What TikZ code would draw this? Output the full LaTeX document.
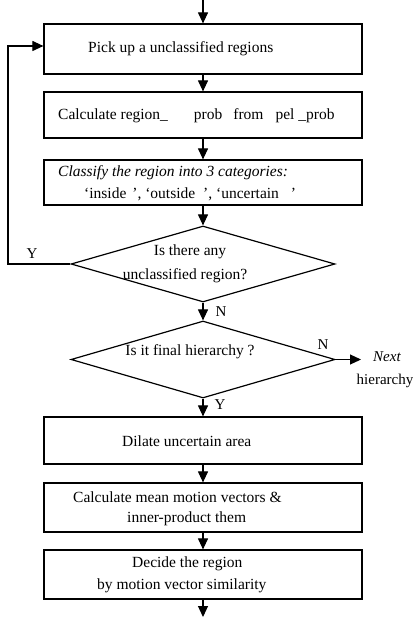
\documentclass[tikz,border=0pt]{standalone}
\usepackage{fontspec}
\setmainfont{Liberation Serif}
\usetikzlibrary{shapes.geometric,arrows.meta}
\begin{document}
\begin{tikzpicture}[x=1pt,y=-1pt,
  box/.style={draw,line width=1.2pt,minimum width=318pt,inner sep=0pt},
  dia/.style={draw,diamond,line width=1.2pt,inner sep=0pt,minimum width=264pt},
  txt/.style={font=\fontsize{15.5}{18}\selectfont,inner sep=0pt,anchor=west},
  ctxt/.style={font=\fontsize{15.5}{18}\selectfont,inner sep=0pt},
  lbl/.style={font=\fontsize{15}{18}\selectfont,inner sep=0pt},
  arr/.style={line width=1.1pt,-{Triangle[length=11pt,width=10pt]}}]
\fill[white] (0,0) rectangle (412,617);
\useasboundingbox (0,0) rectangle (412,617);

\coordinate (start) at (203,0);
\node[box,minimum height=50pt] (b1) at (203,49) {};
\node[box,minimum height=46pt] (b2) at (203,115) {};
\node[box,minimum height=45pt] (b3) at (203,182.5) {};
\node[dia,minimum height=76pt] (d1) at (203,264) {};
\node[dia,minimum height=77pt] (d2) at (203,359.5) {};
\node[box,minimum height=47pt] (b4) at (203,440.5) {};
\node[box,minimum height=49pt] (b5) at (203,507.5) {};
\node[box,minimum height=49pt] (b6) at (203,574.5) {};
\coordinate (end) at (203,617);
\coordinate (loopc) at (8,264);
\coordinate (nextpt) at (361,359.5);

% texts
\node[txt] (t1) at (88,49) {Pick up a unclassified regions};
\node[txt] (t2) at (58,116) {Calculate region\_\hspace{26pt}prob\hspace{11pt}from\hspace{12pt}pel\hspace{4pt}\_prob};
\node[txt] (t3a) at (58,173) {\itshape Classify the region into 3 categories:};
\node[txt] (t3b) at (84,194) {‘inside\hspace{6pt}’, ‘outside\hspace{8pt}’, ‘uncertain\hspace{12pt}’};
\node[ctxt] (t4a) at (190,252) {Is there any};
\node[ctxt] (t4b) at (185,276) {unclassified region?};
\node[ctxt] (t5) at (190,352) {Is it final hierarchy ?};
\node[txt] (t6) at (122,441) {Dilate uncertain area};
\node[txt] (t7a) at (73,497) {Calculate mean motion vectors \&};
\node[txt] (t7b) at (127,519) {inner-product them};
\node[txt] (t8a) at (132,564) {Decide the region};
\node[txt] (t8b) at (97,586) {by motion vector similarity};
\node[lbl,anchor=west] (next1) at (373,357) {\itshape Next};
\node[lbl] (next2) at (385,381) {hierarchy};

% labels
\node[lbl] (ly1) at (32,254) {Y};
\node[lbl] (ln1) at (221,312) {N};
\node[lbl] (ln2) at (323,345) {N};
\node[lbl] (ly2) at (220,405) {Y};

% connectors
\draw[arr] (start) -- (b1.north);
\draw[arr] (b1.south) -- (b2.north);
\draw[arr] (b2.south) -- (b3.north);
\draw[arr] (b3.south) -- (d1.north);
\draw[arr] (d1.south) -- (d2.north);
\draw[arr] (d2.south) -- (b4.north);
\draw[arr] (b4.south) -- (b5.north);
\draw[arr] (b5.south) -- (b6.north);
\draw[arr] (b6.south) -- (end);
\draw[arr] (d1.west) -- (loopc) |- ([yshift=3pt]b1.west);
\draw[arr] (d2.east) -- (nextpt);
\end{tikzpicture}
\end{document}
